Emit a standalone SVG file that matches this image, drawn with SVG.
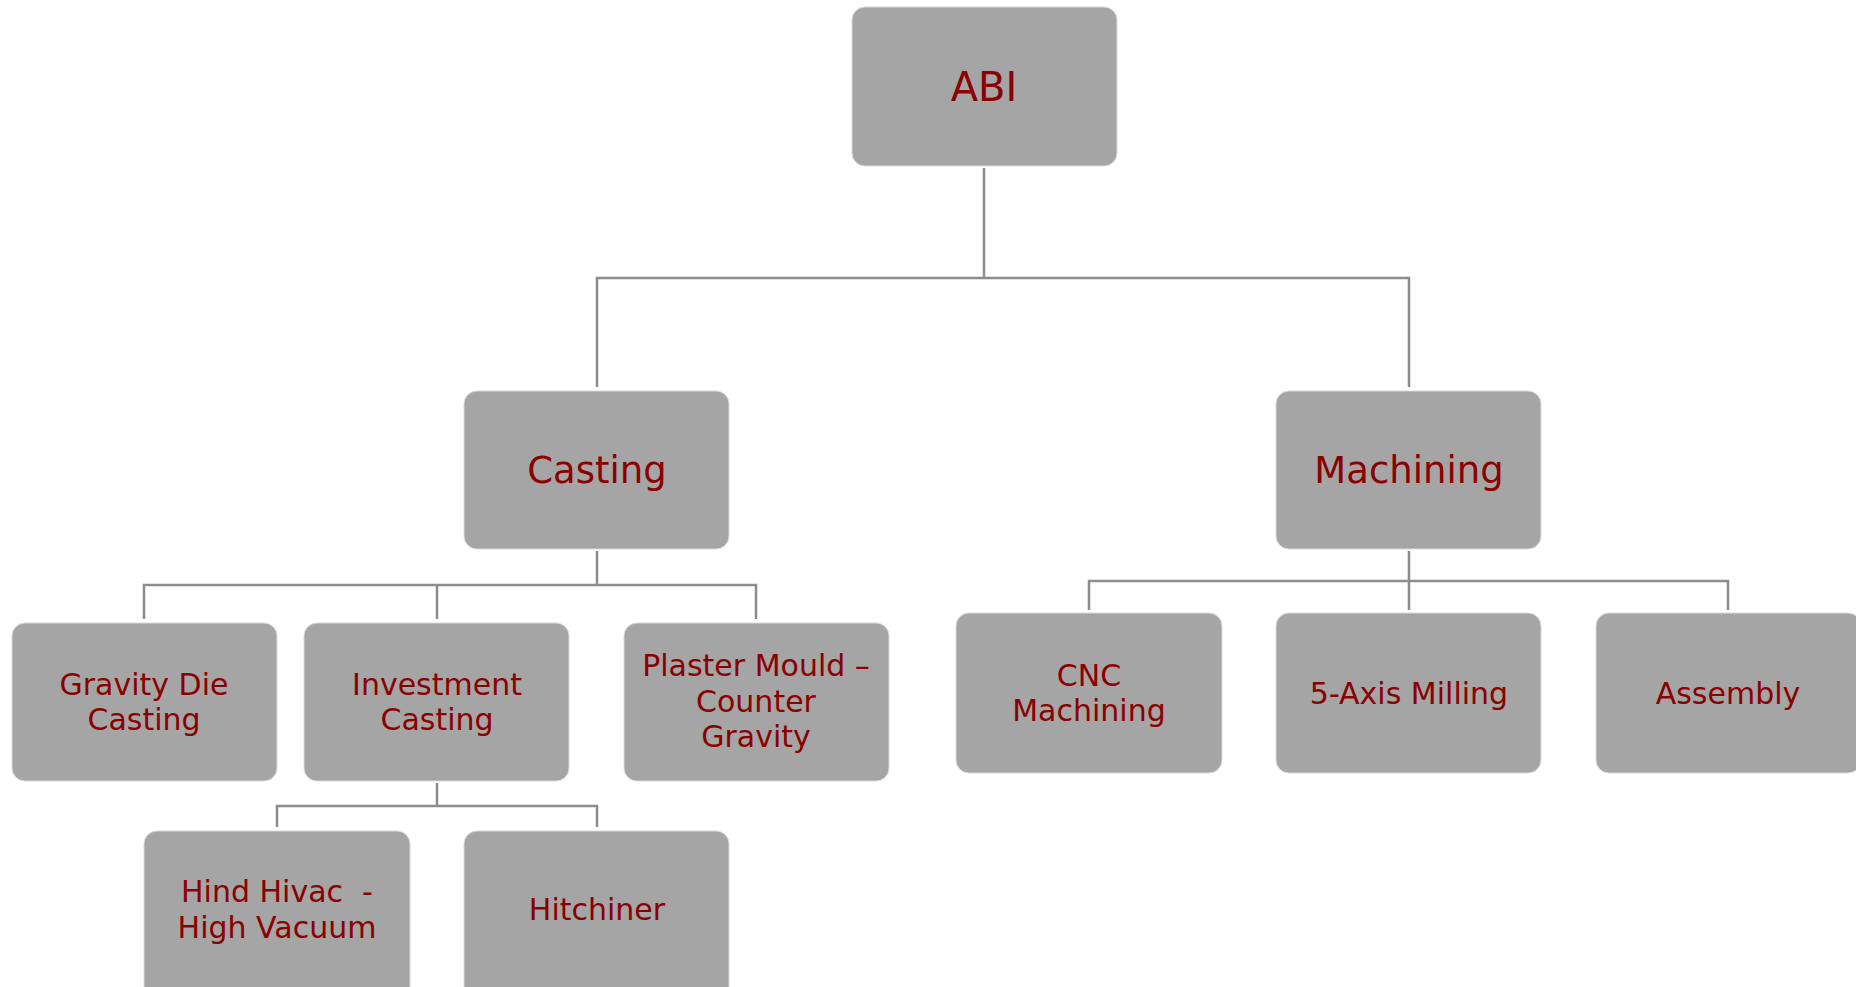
<svg xmlns="http://www.w3.org/2000/svg" width="1856" height="987" viewBox="0 0 1856 987">
<style>
.box{fill:#a5a5a5;stroke:#d9d9d9;stroke-width:1}
.t{font-family:"DejaVu Sans","Liberation Sans",sans-serif;fill:#8b0000;text-anchor:middle}
.conn{fill:none;stroke:#8c8c8c;stroke-width:2.5}
</style>
<rect width="1856" height="987" fill="#ffffff"/>
<g id="connectors" class="conn">
<path d="M984 168 V278 M597 387 V278 H1409 V387"/>
<path d="M597 551 V585 M144 619 V585 H756 V619 M437 585 V619"/>
<path d="M437 783 V806 M277 827 V806 H597 V827"/>
<path d="M1409 551 V581 M1089 610 V581 H1728 V610 M1409 581 V610"/>
</g>
<g id="abi"><rect class="box" x="852" y="7" width="265" height="159" rx="13"/><text class="t" x="984" y="101" font-size="40">ABI</text></g>
<g id="casting"><rect class="box" x="464" y="391" width="265" height="158" rx="13"/><text class="t" x="597" y="483" font-size="37">Casting</text></g>
<g id="machining"><rect class="box" x="1276" y="391" width="265" height="158" rx="13"/><text class="t" x="1409" y="483" font-size="37">Machining</text></g>
<g id="gravity"><rect class="box" x="12" y="623" width="265" height="158" rx="13"/><text class="t" font-size="30"><tspan x="144" y="695">Gravity Die</tspan><tspan x="144" y="730">Casting</tspan></text></g>
<g id="investment"><rect class="box" x="304" y="623" width="265" height="158" rx="13"/><text class="t" font-size="30"><tspan x="437" y="695">Investment</tspan><tspan x="437" y="730">Casting</tspan></text></g>
<g id="plaster"><rect class="box" x="624" y="623" width="265" height="158" rx="13"/><text class="t" font-size="30"><tspan x="756" y="676">Plaster Mould –</tspan><tspan x="756" y="712">Counter</tspan><tspan x="756" y="747">Gravity</tspan></text></g>
<g id="hindhivac"><rect class="box" x="144" y="831" width="266" height="170" rx="13"/><text class="t" font-size="30" xml:space="preserve"><tspan x="277" y="902">Hind Hivac  -</tspan><tspan x="277" y="938">High Vacuum</tspan></text></g>
<g id="hitchiner"><rect class="box" x="464" y="831" width="265" height="170" rx="13"/><text class="t" x="597" y="920" font-size="30">Hitchiner</text></g>
<g id="cnc"><rect class="box" x="956" y="613" width="266" height="160" rx="13"/><text class="t" font-size="30"><tspan x="1089" y="686">CNC</tspan><tspan x="1089" y="721">Machining</tspan></text></g>
<g id="fiveaxis"><rect class="box" x="1276" y="613" width="265" height="160" rx="13"/><text class="t" x="1409" y="704" font-size="30">5-Axis Milling</text></g>
<g id="assembly"><rect class="box" x="1596" y="613" width="265" height="160" rx="13"/><text class="t" x="1728" y="704" font-size="30">Assembly</text></g>
</svg>
